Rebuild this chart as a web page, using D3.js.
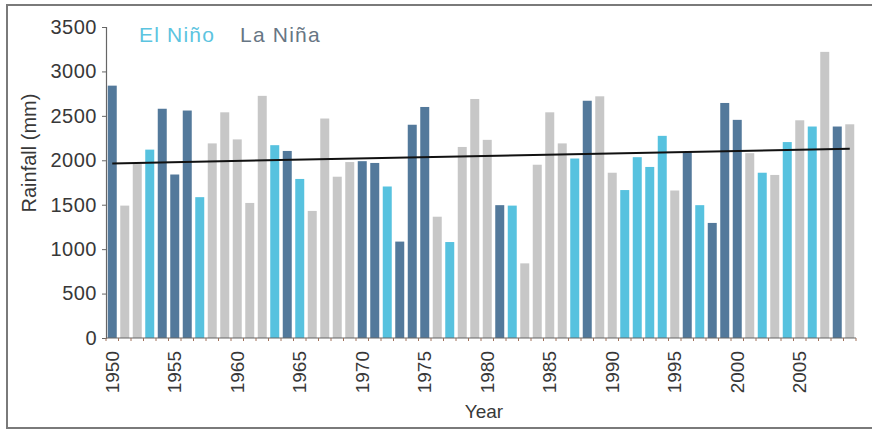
<!DOCTYPE html>
<html>
<head>
<meta charset="utf-8">
<script src="https://cdn.jsdelivr.net/npm/d3@7"></script>
<style>
  html, body { margin: 0; padding: 0; background: #fff; }
  svg { display: block; font-family: "Liberation Sans", Arial, sans-serif; }
</style>
</head>
<body>
<svg id="chart" width="872" height="430"></svg>
<script>
const years = [1950,1951,1952,1953,1954,1955,1956,1957,1958,1959,
  1960,1961,1962,1963,1964,1965,1966,1967,1968,1969,
  1970,1971,1972,1973,1974,1975,1976,1977,1978,1979,
  1980,1981,1982,1983,1984,1985,1986,1987,1988,1989,
  1990,1991,1992,1993,1994,1995,1996,1997,1998,1999,
  2000,2001,2002,2003,2004,2005,2006,2007,2008,2009];
const rainfall = [2840,1490,1960,2120,2580,1840,2560,1585,2190,2540,
  2235,1520,2725,2170,2105,1790,1430,2470,1815,1980,
  1990,1970,1705,1085,2400,2600,1365,1080,2150,2690,
  2230,1495,1490,840,1950,2540,2190,2020,2670,2720,
  1860,1665,2035,1925,2275,1660,2090,1495,1295,2645,
  2455,2080,1860,1835,2205,2450,2380,3220,2380,2405];
// E = El Niño, L = La Niña, N = neutral
const phase = ["L","N","N","E","L","L","L","E","N","N",
  "N","N","N","E","L","E","N","N","N","N",
  "L","L","E","L","L","L","N","E","N","N",
  "N","L","E","N","N","N","N","E","L","N",
  "N","E","E","E","E","N","L","E","L","L",
  "L","N","E","N","E","N","E","N","L","N"];
const yTicks = [0,500,1000,1500,2000,2500,3000,3500];
const xTickYears = [1950,1955,1960,1965,1970,1975,1980,1985,1990,1995,2000,2005];
const trendYears = [1950, 2009];
const trendValues = [1965, 2130];
const legendLabels = ["El Niño", "La Niña"];

const colors = { E: "#57c2df", L: "#53799b", N: "#c7c7c7" };

const svg = d3.select("#chart");

// frame
svg.append("rect").attr("x", 7).attr("y", 5).attr("width", 900).attr("height", 423)
  .attr("fill", "#fff").attr("stroke", "#7a7a7a").attr("stroke-width", 2);

const x = d3.scaleBand().domain(years).range([106, 856]).paddingInner(0.28).paddingOuter(0.14);
const y = d3.scaleLinear().domain([0, 3500]).range([338, 27]);

// bars
svg.append("g").selectAll("rect").data(years).join("rect")
  .attr("x", d => x(d))
  .attr("width", x.bandwidth())
  .attr("y", (d, i) => y(rainfall[i]))
  .attr("height", (d, i) => y(0) - y(rainfall[i]))
  .attr("fill", (d, i) => colors[phase[i]]);

// y axis
const yAxis = svg.append("g").attr("transform", "translate(106,0)")
  .call(d3.axisLeft(y).tickValues(yTicks).tickSize(4).tickPadding(5).tickFormat(d3.format("d")));
yAxis.select(".domain").attr("stroke", "#666").attr("stroke-width", 1.2);
yAxis.selectAll(".tick line").attr("stroke", "#666");
yAxis.selectAll(".tick text").attr("font-size", 20).attr("fill", "#383838")
  .attr("font-family", "Liberation Sans, Arial, sans-serif").attr("letter-spacing", "0.5px");

// x axis
const xAxis = svg.append("g").attr("transform", "translate(0,338)");
xAxis.append("line").attr("x1", 106).attr("x2", 856).attr("y1", 0).attr("y2", 0)
  .attr("stroke", "#666").attr("stroke-width", 1.2);
const edges = years.map(d => x(d) - x.step() * x.paddingInner() / 2).concat([x(years[years.length-1]) + x.bandwidth() + x.step()*x.paddingInner()/2]);
xAxis.selectAll("line.tk").data(edges).join("line").attr("class", "tk")
  .attr("x1", d => d).attr("x2", d => d).attr("y1", 0).attr("y2", 3)
  .attr("stroke", "#a0705a").attr("stroke-width", 1);
xAxis.selectAll("text").data(xTickYears).join("text")
  .attr("transform", d => `translate(${x(d) + x.bandwidth()/2},13) rotate(-90)`)
  .attr("text-anchor", "end").attr("dy", "0.35em")
  .attr("font-size", 19).attr("fill", "#383838")
  .text(d => d);

// trend line
const line = d3.line().x(d => x(d[0]) + x.bandwidth()/2).y(d => y(d[1]));
svg.append("path").datum(trendYears.map((d, i) => [d, trendValues[i]]))
  .attr("d", line).attr("stroke", "#111").attr("stroke-width", 2).attr("fill", "none");

// axis titles
svg.append("text").attr("transform", "translate(36,153) rotate(-90)")
  .attr("text-anchor", "middle").attr("font-size", 20).attr("fill", "#383838")
  .text("Rainfall (mm)");
svg.append("text").attr("x", 484).attr("y", 418)
  .attr("text-anchor", "middle").attr("font-size", 19).attr("fill", "#383838")
  .text("Year");

// legend
svg.append("text").attr("x", 139).attr("y", 42).attr("font-size", 21)
  .attr("letter-spacing", "1.2px").attr("fill", "#5cc4e0").text(legendLabels[0]);
svg.append("text").attr("x", 240).attr("y", 42).attr("font-size", 21)
  .attr("letter-spacing", "1.2px").attr("fill", "#677684").text(legendLabels[1]);
</script>
</body>
</html>
